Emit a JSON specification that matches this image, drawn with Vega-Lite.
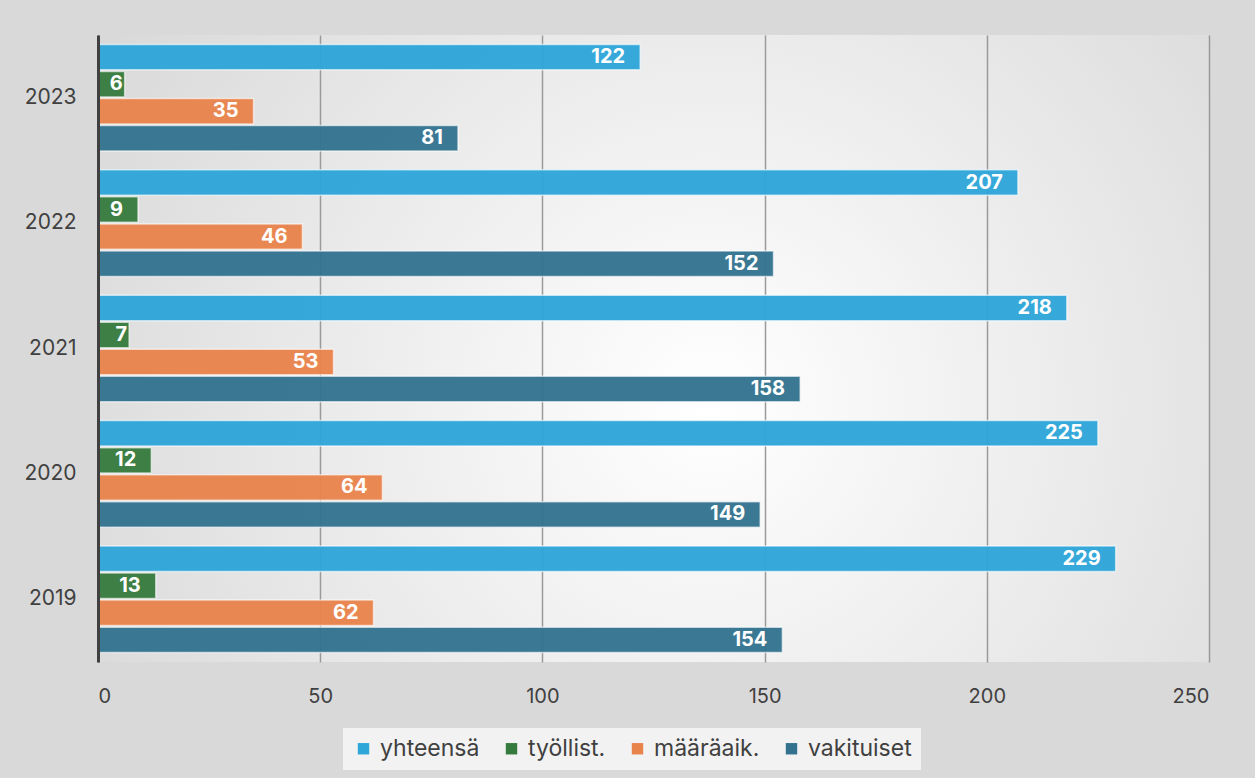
{
  "$schema": "https://vega.github.io/schema/vega-lite/v6.json",
  "width": 1111,
  "height": 627,
  "autosize": {"type": "none"},
  "padding": {"left": 98, "top": 35, "right": 46, "bottom": 116},
  "background": "#d9d9d9",
  "config": {
    "font": "Inter",
    "view": {
      "stroke": null,
      "fill": {"gradient": "radial", "x1": 0.55, "y1": 0.55, "r1": 0, "x2": 0.55, "y2": 0.55, "r2": 0.8,
        "stops": [{"offset": 0, "color": "#ffffff"}, {"offset": 1, "color": "#cfcfcf"}]}
    }
  },
  "data": {"values": [
    {"year": "2023", "series": "yhteensä", "value": 122},
    {"year": "2023", "series": "työllist.", "value": 6},
    {"year": "2023", "series": "määräaik.", "value": 35},
    {"year": "2023", "series": "vakituiset", "value": 81},
    {"year": "2022", "series": "yhteensä", "value": 207},
    {"year": "2022", "series": "työllist.", "value": 9},
    {"year": "2022", "series": "määräaik.", "value": 46},
    {"year": "2022", "series": "vakituiset", "value": 152},
    {"year": "2021", "series": "yhteensä", "value": 218},
    {"year": "2021", "series": "työllist.", "value": 7},
    {"year": "2021", "series": "määräaik.", "value": 53},
    {"year": "2021", "series": "vakituiset", "value": 158},
    {"year": "2020", "series": "yhteensä", "value": 225},
    {"year": "2020", "series": "työllist.", "value": 12},
    {"year": "2020", "series": "määräaik.", "value": 64},
    {"year": "2020", "series": "vakituiset", "value": 149},
    {"year": "2019", "series": "yhteensä", "value": 229},
    {"year": "2019", "series": "työllist.", "value": 13},
    {"year": "2019", "series": "määräaik.", "value": 62},
    {"year": "2019", "series": "vakituiset", "value": 154}
  ]},
  "encoding": {
    "y": {
      "field": "year", "type": "nominal",
      "sort": ["2023", "2022", "2021", "2020", "2019"],
      "scale": {"paddingInner": 0.15, "paddingOuter": 0.075},
      "axis": {"title": null, "ticks": false, "domainColor": "#404040", "domainWidth": 3, "zindex": 1,
        "labelFontSize": 21, "labelColor": "#404040", "labelPadding": 22}
    },
    "yOffset": {
      "field": "series", "type": "nominal",
      "sort": ["yhteensä", "työllist.", "määräaik.", "vakituiset"],
      "scale": {"paddingInner": 0.06}
    },
    "x": {
      "field": "value", "type": "quantitative",
      "scale": {"domain": [0, 250], "nice": false},
      "axis": {"title": null, "values": [0, 50, 100, 150, 200, 250], "domain": false, "ticks": false,
        "grid": true, "gridColor": "#9a9a9a", "gridWidth": 1.5,
        "labelFontSize": 20, "labelColor": "#404040", "labelPadding": 24}
    }
  },
  "layer": [
    {
      "mark": {"type": "bar", "stroke": "#ffffff", "strokeOpacity": 0.6, "strokeWidth": 1.5, "fillOpacity": 0.96},
      "encoding": {
        "color": {
          "field": "series", "type": "nominal",
          "sort": ["yhteensä", "työllist.", "määräaik.", "vakituiset"],
          "scale": {"domain": ["yhteensä", "työllist.", "määräaik.", "vakituiset"],
            "range": ["#2EA6D8", "#367B3E", "#E9834C", "#33728F"]},
          "legend": {"title": null, "orient": "none", "legendX": 245, "legendY": 693, "direction": "horizontal", "symbolType": "square",
            "symbolSize": 130, "symbolStrokeWidth": 0, "labelFontSize": 23, "labelColor": "#404040",
            "columnPadding": 20, "fillColor": "#f2f2f2", "padding": 9, "labelOffset": 5}
        }
      }
    },
    {
      "transform": [{"filter": "datum.value >= 9"}],
      "mark": {"type": "text", "align": "right", "dx": -15, "color": "#ffffff", "fontWeight": "bold", "fontSize": 20},
      "encoding": {"text": {"field": "value", "type": "quantitative"}}
    },
    {
      "transform": [{"filter": "datum.value < 9"}],
      "mark": {"type": "text", "align": "right", "dx": -2, "color": "#ffffff", "fontWeight": "bold", "fontSize": 20},
      "encoding": {"text": {"field": "value", "type": "quantitative"}}
    }
  ]
}
